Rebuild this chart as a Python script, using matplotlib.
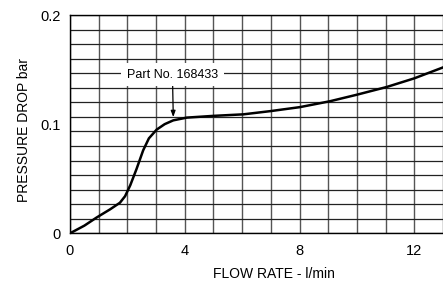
import numpy as np
import matplotlib.pyplot as plt

plt.rcParams['font.family'] = ['Liberation Sans', 'DejaVu Sans']

# curve
flow = [0.0, 0.5, 0.93, 1.4, 1.74, 1.92, 2.1, 2.32, 2.55, 2.75, 3.02, 3.3, 3.6,
        4.07, 5.0, 6.04, 7.0, 8.01, 9.06, 10.0, 11.03, 12.0, 13.0]
pdrop = [0.0, 0.007, 0.0145, 0.022, 0.028, 0.034, 0.044, 0.059, 0.076, 0.087, 0.095,
         0.1, 0.1035, 0.106, 0.1076, 0.109, 0.112, 0.1156, 0.121, 0.127, 0.134, 0.142, 0.152]

xticks = [0, 4, 8, 12]
xticklabels = ['0', '4', '8', '12']
yticks = [0, 0.1, 0.2]
yticklabels = ['0', '0.1', '0.2']
part_label = 'Part No. 168433'

fig = plt.figure(figsize=(4.43, 2.82), dpi=100)
ax = fig.add_axes([0.158, 0.1727, 0.842, 0.774])

# grid
for xv in np.arange(0, 14, 1):
    ax.axvline(xv, color='#555555', lw=1.0, zorder=1)
for yv in np.linspace(0, 0.2, 16):
    ax.axhline(yv, color='#222222', lw=0.9, zorder=1)

ax.plot(flow, pdrop, color='black', lw=1.8, zorder=3)

ax.annotate(part_label, xy=(3.6, 0.1065), xytext=(3.57, 0.1455),
            ha='center', va='center', fontsize=9,
            bbox=dict(boxstyle='square,pad=0.45', fc='white', ec='none'),
            arrowprops=dict(arrowstyle='-|>,head_length=0.4,head_width=0.15',
                            color='black', lw=0.9, shrinkA=0, shrinkB=0),
            zorder=4)

ax.set_xlim(0, 13)
ax.set_ylim(0, 0.2)
ax.set_xticks(xticks)
ax.set_xticklabels(xticklabels)
ax.set_yticks(yticks)
ax.set_yticklabels(yticklabels)
ax.tick_params(length=0, labelsize=10.5, pad=8)
ax.tick_params(axis='y', pad=7)
for s in ['left', 'bottom', 'top']:
    ax.spines[s].set_color('black')
    ax.spines[s].set_linewidth(1.0)
ax.spines['right'].set_visible(False)

ax.set_xlabel('FLOW RATE - l/min', fontsize=10, labelpad=6)
ax.xaxis.set_label_coords(0.547, -0.155)
ax.set_ylabel('PRESSURE DROP bar', fontsize=10)
ax.yaxis.set_label_coords(-0.105, 0.473)

fig.savefig('out.png', dpi=100)
